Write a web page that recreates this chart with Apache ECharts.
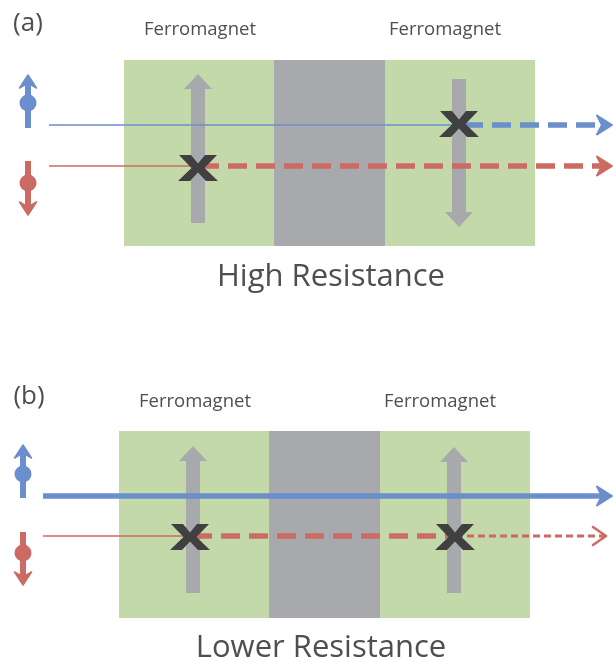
<!DOCTYPE html>
<html><head><meta charset="utf-8">
<script src="https://cdn.jsdelivr.net/npm/echarts@6/dist/echarts.min.js"></script>
<style>html,body{margin:0;padding:0;background:#fff}#c{width:613px;height:661px}</style>
</head><body><div id="c"></div><script>
// ---- data (diagram coordinates, y grows downward) ----
// layer blocks: [x0, x1, y0, y1, kind]
const blocks = [
  [124, 274, 60, 246, 'fm'], [274, 385, 60, 246, 'spacer'], [385, 535, 60, 246, 'fm'],
  [119, 269, 431, 618, 'fm'], [269, 380, 431, 618, 'spacer'], [380, 530, 431, 618, 'fm']
];
// magnetisation arrows: [x, yTail, yTip]
const magnets = [[198, 223, 74], [459, 79, 227], [193, 593, 446], [454, 593, 447]];
// spin icons: [x, yTail, yTip, yBall, colour]
const spins = [[28, 128, 75, 103, 'up'], [28, 161, 215, 183, 'down'], [23, 498, 445, 474, 'up'], [23, 532, 585, 553, 'down']];
// current paths: [x0, x1, y, channel, style, head]
const paths = [
  [49, 459, 125, 'up', 'thin', 'none'], [464, 612, 125, 'up', 'dash', 'dart'],
  [49, 196, 166, 'down', 'thin', 'none'], [200, 612, 166, 'down', 'dash', 'dart'],
  [43, 612, 496, 'up', 'thick', 'dart'],
  [43, 188, 536, 'down', 'thin', 'none'], [193, 452, 536, 'down', 'dash', 'none'], [456, 606, 536, 'down', 'dot', 'open']
];
// blocked spin channel marks: [x, y]
const crosses = [[198, 168], [459, 124], [190, 537], [455, 537]];
// texts: [text, x, y, size]
const labels = [
  ['(a)', 28, 24, 26], ['Ferromagnet', 200, 30, 18.5], ['Ferromagnet', 445, 30, 18.5], ['High Resistance', 331, 277, 31],
  ['(b)', 29, 397, 26], ['Ferromagnet', 195, 402, 18.5], ['Ferromagnet', 440, 402, 18.5], ['Lower Resistance', 321, 648, 31]
];

// ---- styles ----
const COL = { fm: '#C3D9A9', spacer: '#A7A9AC', magnet: '#A7A9AC', up: '#6A8FCC', down: '#CC6B63', cross: '#404040', text: '#4F4F4F' };
const LINE = { thin: { w: 1.6, dash: null }, thick: { w: 5.5, dash: null }, dash: { w: 5.5, dash: [19, 9] }, dot: { w: 3.2, dash: [7, 4] } };
const FONT = '"Open Sans", "Noto Sans", sans-serif';

const chart = echarts.init(document.getElementById('c'), null, { renderer: 'canvas' });

function rectItem(params, api) {
  const b = blocks[params.dataIndex];
  const p0 = api.coord([b[0], b[2]]), p1 = api.coord([b[1], b[3]]);
  return { type: 'rect', shape: { x: p0[0], y: p0[1], width: p1[0] - p0[0], height: p1[1] - p0[1] }, style: { fill: COL[b[4]] } };
}
function magnetItem(params, api) {
  const m = magnets[params.dataIndex];
  const t = api.coord([m[0], m[1]]), h = api.coord([m[0], m[2]]);
  const dir = h[1] < t[1] ? -1 : 1;
  const sw = 7, hw = 14, hl = 15;
  const base = h[1] - dir * hl;
  return { type: 'polygon', shape: { points: [
    [t[0] - sw, t[1]], [t[0] - sw, base], [t[0] - hw, base], [h[0], h[1]], [t[0] + hw, base], [t[0] + sw, base], [t[0] + sw, t[1]]
  ] }, style: { fill: COL.magnet } };
}
function spinItem(params, api) {
  const s = spins[params.dataIndex];
  const t = api.coord([s[0], s[1]]), h = api.coord([s[0], s[2]]), b = api.coord([s[0], s[3]]);
  const dir = h[1] < t[1] ? -1 : 1;
  const c = COL[s[4]];
  const base = h[1] - dir * 13, notch = h[1] - dir * 8;
  return { type: 'group', children: [
    { type: 'line', shape: { x1: t[0], y1: t[1], x2: t[0], y2: notch }, style: { stroke: c, lineWidth: 6 } },
    { type: 'circle', shape: { cx: b[0], cy: b[1], r: 8.5 }, style: { fill: c } },
    { type: 'polygon', shape: { points: [[h[0], h[1]], [h[0] + 8.5, base], [h[0], notch], [h[0] - 8.5, base]] }, style: { fill: c, stroke: c, lineWidth: 1.5, lineJoin: 'round' } }
  ] };
}
function pathItem(params, api) {
  const p = paths[params.dataIndex];
  const a = api.coord([p[0], p[2]]), e = api.coord([p[1], p[2]]);
  const c = COL[p[3]], st = LINE[p[4]];
  const children = [];
  let endX = e[0];
  if (p[5] === 'dart') endX = e[0] - 10;
  if (p[5] === 'open') endX = e[0] - 2;
  children.push({ type: 'line', shape: { x1: a[0], y1: a[1], x2: endX, y2: a[1] }, style: { stroke: c, lineWidth: st.w, lineDash: st.dash, lineCap: 'butt' } });
  if (p[5] === 'dart') {
    children.push({ type: 'polygon', shape: { points: [[e[0], e[1]], [e[0] - 15, e[1] - 9.5], [e[0] - 10, e[1]], [e[0] - 15, e[1] + 9.5]] },
      style: { fill: c, stroke: c, lineWidth: 2, lineJoin: 'round' } });
  } else if (p[5] === 'open') {
    children.push({ type: 'polyline', shape: { points: [[e[0] - 13, e[1] - 9], [e[0], e[1]], [e[0] - 13, e[1] + 9]] },
      style: { fill: null, stroke: c, lineWidth: 2.6, lineJoin: 'round', lineCap: 'round' } });
  }
  return { type: 'group', children };
}
function crossItem(params, api) {
  const x = crosses[params.dataIndex];
  const c = api.coord([x[0], x[1]]);
  const pts = [[-19, -13], [-7, -13], [0, -4.5], [7, -13], [19, -13], [6.5, 0], [20, 13], [8, 13], [0, 4.5], [-8, 13], [-20, 13], [-6.5, 0]]
    .map(q => [c[0] + q[0], c[1] + q[1]]);
  return { type: 'polygon', shape: { points: pts }, style: { fill: COL.cross } };
}
function labelItem(params, api) {
  const l = labels[params.dataIndex];
  const c = api.coord([l[1], l[2]]);
  return { type: 'text', x: c[0], y: c[1], style: { text: l[0], fill: COL.text, font: l[3] + 'px ' + FONT, align: 'center', verticalAlign: 'middle' } };
}

const xy = arr => arr.map(() => [0, 0]);
chart.setOption({
  animation: false,
  grid: { left: 0, right: 0, top: 0, bottom: 0 },
  xAxis: { type: 'value', min: 0, max: 613, show: false },
  yAxis: { type: 'value', min: 0, max: 661, inverse: true, show: false },
  series: [
    { type: 'custom', renderItem: rectItem, data: xy(blocks), clip: false, z: 1 },
    { type: 'custom', renderItem: magnetItem, data: xy(magnets), clip: false, z: 2 },
    { type: 'custom', renderItem: pathItem, data: xy(paths), clip: false, z: 3 },
    { type: 'custom', renderItem: crossItem, data: xy(crosses), clip: false, z: 4 },
    { type: 'custom', renderItem: spinItem, data: xy(spins), clip: false, z: 3 },
    { type: 'custom', renderItem: labelItem, data: xy(labels), clip: false, z: 5 }
  ]
});
</script></body></html>
